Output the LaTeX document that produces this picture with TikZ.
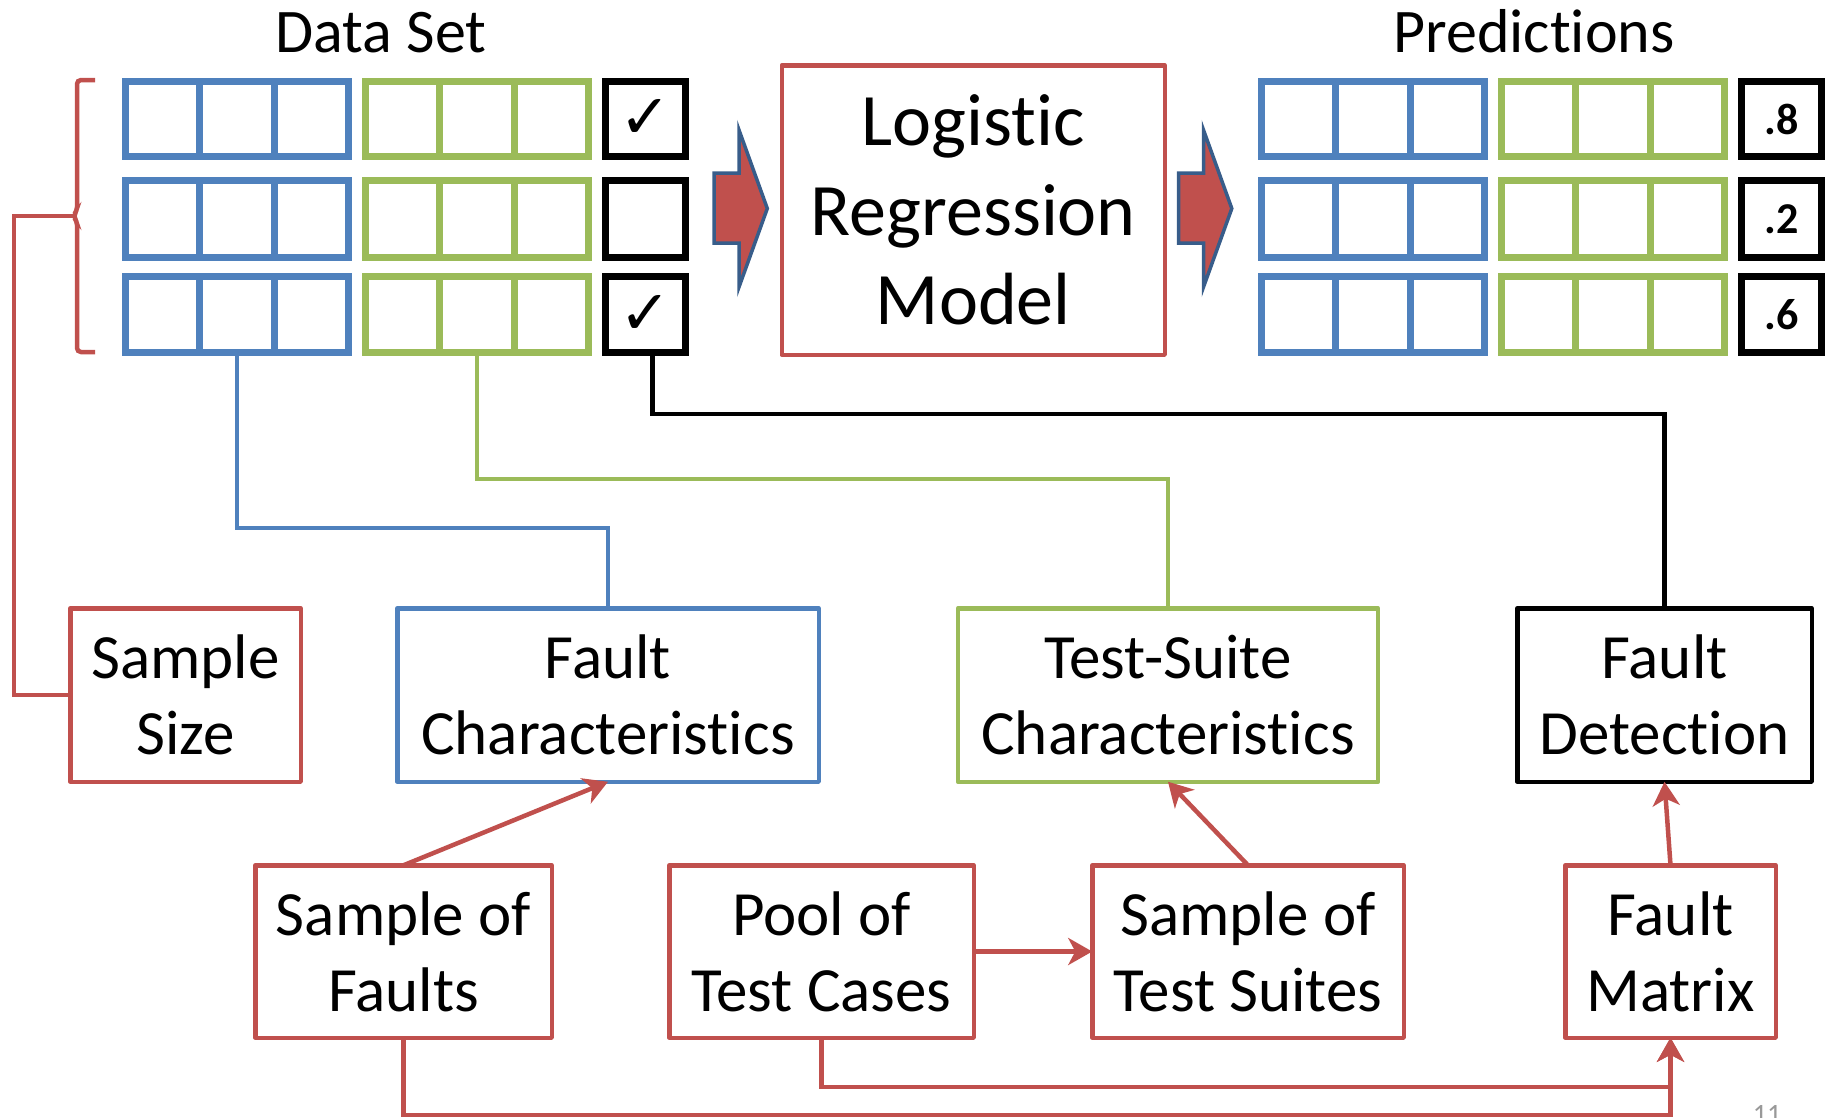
\documentclass[tikz,border=0pt]{standalone}
\usepackage{fontspec}
\setmainfont{Carlito}[Ligatures=NoCommon]
\newfontfamily\marksymfont{DejaVu Sans}
\usetikzlibrary{calc,arrows.meta}

\definecolor{ored}{HTML}{C0504D}
\definecolor{oblue}{HTML}{4F81BD}
\definecolor{ogreen}{HTML}{9BBB59}
\definecolor{odark}{HTML}{385D8A}

% a group of three data cells with two inner rules
\newcommand\tripcell[6]{%
  \node[cellbox, draw=#2, minimum width=#5pt, minimum height=#6pt] (#1) at (#3,#4) {};
  \draw[cellrule, draw=#2]
    ($(#1.north west)!1/3!(#1.north east)$) -- ($(#1.south west)!1/3!(#1.south east)$)
    ($(#1.north west)!2/3!(#1.north east)$) -- ($(#1.south west)!2/3!(#1.south east)$);
}

\begin{document}
\begin{tikzpicture}[x=1pt,y=-1pt,
  cellbox/.style={line width=7pt, inner sep=0pt, outer sep=0pt},
  cellrule/.style={line width=7pt},
  markbox/.style={draw=black, line width=7pt, inner sep=0pt, outer sep=0pt,
    minimum width=80pt, font=\fontsize{44}{44}\selectfont},
  tickbox/.style={markbox, font=\fontsize{62}{62}\marksymfont\bfseries},
  probbox/.style={markbox, font=\fontsize{44}{44}\selectfont\bfseries},
  box/.style={draw, line width=4.5pt, inner sep=0pt, outer sep=0pt, align=center,
    line join=round, font=\fontsize{63}{76}\selectfont},
  title/.style={anchor=base, inner sep=0pt, font=\fontsize{62}{74}\selectfont},
  conn/.style={line width=4.5pt},
  redarrow/.style={conn, draw=ored, -{Stealth[length=24pt,width=27pt,inset=7pt]}},
  blockarrow/.style={fill=ored, draw=odark, line width=3.5pt, line join=miter},
]
\path[use as bounding box] (0,0) rectangle (1829,1117);
\clip (0,0) rectangle (1829,1117);

% titles
\node[title] (dstitle) at (381,52) {Data Set};
\node[title] (prtitle) at (1534,52) {Predictions};

% data set rows
\foreach \r/\yc/\hh in {1/119/75, 2/219/77, 3/314.5/76} {
  \tripcell{lb\r}{oblue}{237}{\yc}{223}{\hh}
  \tripcell{lg\r}{ogreen}{477}{\yc}{223}{\hh}
  \tripcell{rb\r}{oblue}{1373}{\yc}{223}{\hh}
  \tripcell{rg\r}{ogreen}{1613}{\yc}{223}{\hh}
}
\node[tickbox, minimum height=75pt] (lk1) at (645.5,119) {✓};
\node[markbox, minimum height=77pt] (lk2) at (645.5,219) {};
\node[tickbox, minimum height=76pt] (lk3) at (645.5,314.5) {✓};
\node[probbox, minimum height=75pt] (rk1) at (1781.5,119) {.8};
\node[probbox, minimum height=77pt] (rk2) at (1781.5,219) {.2};
\node[probbox, minimum height=76pt] (rk3) at (1781.5,314.5) {.6};

% bracket grouping the data rows
\coordinate (brk) at (75,216);
\draw[conn, draw=ored, rounded corners=4pt]
  (95,80) -- (77,80) -- (77,211) -- (73,216) -- (77,221) -- (77,352) -- (95,352);

% model and block arrows
\node[box, draw=ored, minimum width=383pt, minimum height=289.5pt,
      font=\fontsize{74}{89.5}\selectfont] (model) at (973.25,210)
  {Logistic\\Regression\\Model};
\filldraw[blockarrow] (714,173) -- (739,173) -- (739,130) -- (767.3,208.5)
  -- (739,287) -- (739,243) -- (714,243) -- cycle;
\filldraw[blockarrow, shift={(464.5,0)}] (714,173) -- (739,173) -- (739,130) -- (767.3,208.5)
  -- (739,287) -- (739,243) -- (714,243) -- cycle;

% characteristic boxes
\node[box, draw=ored, minimum width=230.5pt, minimum height=173.5pt] (size) at (185.5,695) {Sample\\Size};
\node[box, draw=oblue, minimum width=421.5pt, minimum height=173.5pt] (fchar) at (608,695) {Fault\\Characteristics};
\node[box, draw=ogreen, minimum width=420pt, minimum height=173.5pt] (tschar) at (1168,695) {Test-Suite\\Characteristics};
\node[box, draw=black, minimum width=294.5pt, minimum height=173.5pt] (fdet) at (1664.5,695) {Fault\\Detection};

% source boxes
\node[box, draw=ored, minimum width=296.5pt, minimum height=172.5pt] (sof) at (403.5,951.5) {Sample of\\Faults};
\node[box, draw=ored, minimum width=304.5pt, minimum height=172.5pt] (pool) at (821.5,951.5) {Pool of\\Test Cases};
\node[box, draw=ored, minimum width=311.5pt, minimum height=172.5pt] (sots) at (1248,951.5) {Sample of\\Test Suites};
\node[box, draw=ored, minimum width=210.5pt, minimum height=172.5pt] (fmat) at (1670.5,951.5) {Fault\\Matrix};

% connectors from the data columns
\draw[conn, draw=ored] (brk) -- (14,216) |- (size.west);
\draw[conn, draw=oblue] (lb3.south) -- (lb3.south |- 0,528) -| (fchar.north);
\draw[conn, draw=ogreen] (lg3.south) -- (lg3.south |- 0,479) -| (tschar.north);
\draw[conn, draw=black] ([xshift=7pt]lk3.south) -- ([xshift=7pt]lk3.south |- 0,414) -| (fdet.north);

% red data-flow arrows
\draw[redarrow] (sof.north) -- (fchar.south);
\draw[redarrow] (sots.north) -- (tschar.south);
\draw[redarrow] (fmat.north) -- (fdet.south);
\draw[redarrow] (pool.east) -- (sots.west);
\draw[redarrow] (sof.south) |- (fmat.south |- 0,1115) -- (fmat.south);
\draw[redarrow] (pool.south) |- (fmat.south |- 0,1087) -- (fmat.south);

% page number
\node[anchor=north, inner sep=0pt, text=black!40, font=\fontsize{28}{28}\selectfont] (pagenum) at (1767,1105) {11};
\end{tikzpicture}
\end{document}
